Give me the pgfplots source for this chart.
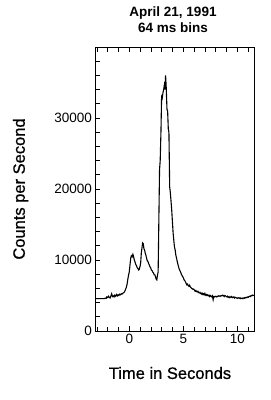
\documentclass[border=0pt]{standalone}
\usepackage{pgfplots}
\pgfplotsset{compat=1.18}
\usepackage{fontspec}
\setmainfont{Liberation Sans}
\newfontfamily\labelfont[FakeBold=0.8]{Liberation Sans}
\begin{document}
\begin{tikzpicture}
\useasboundingbox (-95.5pt,-69pt) rectangle (175.5pt,331pt);
\begin{axis}[
  at={(0,0)}, anchor=south west,
  scale only axis, width=158.5pt, height=284pt,
  xmin=-3.15, xmax=11.55, ymin=0, ymax=40000,
  xtick={0,5,10}, minor xtick={-3,-2,-1,1,2,3,4,6,7,8,9,11},
  ytick={0,10000,20000,30000}, minor ytick={2000,4000,6000,8000,12000,14000,16000,18000,22000,24000,26000,28000,32000,34000,36000,38000},
  xtick pos=both, ytick pos=left,
  tick align=inside,
  major tick length=5pt, minor tick length=4.5pt,
  tick style={black, line width=0.8pt},
  axis line style={line width=0.9pt},
  scaled y ticks=false,
  /pgf/number format/assume math mode=true,
  /pgf/number format/1000 sep={},
  tick label style={font=\fontsize{13.5}{13.5}\selectfont},
  clip=false,
]
\addplot[black, line width=1.1pt] coordinates {
(-3.15,4550) (-2.30,4550) (-2.25,4650) (-2.15,4600) (-2.10,4800) (-2.02,4700)
(-1.95,4900) (-1.88,4750) (-1.80,4650) (-1.72,4950) (-1.65,5250) (-1.58,4850)
(-1.50,4950) (-1.43,4800) (-1.36,5050) (-1.28,4900) (-1.20,5150) (-1.12,4950)
(-1.05,5100) (-0.98,5000) (-0.90,5200) (-0.82,5100) (-0.75,5250) (-0.68,5200)
(-0.60,5350) (-0.52,5400) (-0.45,5550) (-0.38,5800) (-0.30,6100) (-0.22,6600)
(-0.15,7300) (-0.08,7900) (-0.02,8300) (0.05,9300) (0.12,10300) (0.18,10600)
(0.25,10450) (0.32,10800) (0.38,10500) (0.45,10000) (0.52,9700) (0.58,9400)
(0.65,9200) (0.72,8900) (0.78,8800) (0.85,8600) (0.91,8700) (0.98,9100)
(1.04,9600) (1.10,11000) (1.16,11700) (1.22,12400) (1.28,12300) (1.34,11600)
(1.40,11400) (1.46,11000) (1.52,10700) (1.58,10300) (1.65,9900) (1.71,9800)
(1.78,9500) (1.84,9300) (1.90,9050) (1.97,8900) (2.03,8600) (2.10,8500)
(2.16,8300) (2.23,8200) (2.29,7900) (2.36,7900) (2.42,7600) (2.48,7300)
(2.54,7200) (2.60,7900) (2.66,8300) (2.72,15000) (2.79,22700) (2.85,24000)
(2.92,28000) (2.98,33000) (3.04,32800) (3.10,33500) (3.17,34000) (3.23,34600)
(3.29,34000) (3.35,36000) (3.41,34300) (3.48,31200) (3.54,31000) (3.60,28500)
(3.66,28000) (3.73,20300) (3.79,19500) (3.86,18200) (3.92,17000) (3.98,15500)
(4.05,13800) (4.11,12800) (4.17,11900) (4.24,11400) (4.30,10700) (4.36,10300)
(4.43,9800) (4.49,9400) (4.56,9000) (4.62,8700) (4.68,8500) (4.75,8300)
(4.81,8000) (4.88,7800) (4.94,7650) (5.00,7500) (5.07,7200) (5.13,7100)
(5.20,6900) (5.26,6700) (5.32,6500) (5.39,6600) (5.45,6400) (5.52,6300)
(5.58,6450) (5.64,6200) (5.71,6100) (5.77,6000) (5.84,5950) (5.90,5850)
(5.96,5900) (6.03,5750) (6.09,5600) (6.16,5700) (6.22,5550) (6.28,5500)
(6.35,5600) (6.41,5400) (6.48,5350) (6.54,5450) (6.60,5300) (6.67,5200)
(6.73,5350) (6.80,5150) (6.86,5250) (6.92,5100) (6.99,5300) (7.05,5050)
(7.12,5150) (7.18,5000) (7.24,5100) (7.31,4950) (7.37,5050) (7.44,4850)
(7.50,5000) (7.56,4900) (7.63,4800) (7.69,4950) (7.76,4400) (7.82,4850)
(7.88,4800) (7.95,4900) (8.01,4850) (8.08,4800) (8.14,4900) (8.20,4850)
(8.27,4950) (8.33,4900) (8.40,4950) (8.46,4900) (8.52,5000) (8.59,4950)
(8.65,5050) (8.72,5000) (8.78,4850) (8.84,5000) (8.91,4950) (8.97,4850)
(9.04,4800) (9.10,4900) (9.16,4750) (9.23,4850) (9.29,4700) (9.36,4800)
(9.42,4750) (9.48,4850) (9.55,4700) (9.61,4750) (9.68,4800) (9.74,4650)
(9.80,4750) (9.87,4700) (9.93,4650) (10.00,4600) (10.06,4700) (10.12,4650)
(10.19,4600) (10.25,4700) (10.32,4550) (10.38,4600) (10.44,4650) (10.51,4550)
(10.57,4650) (10.64,4600) (10.70,4700) (10.76,4650) (10.83,4750) (10.89,4700)
(10.96,4800) (11.02,4750) (11.08,4850) (11.15,4900) (11.21,4850) (11.28,5000)
(11.34,4950) (11.40,5050) (11.47,5000) (11.55,5050)
};
\node[font=\bfseries\fontsize{13.5}{13.5}\selectfont] at (axis description cs:0.489,1.118) {April 21, 1991};
\node[font=\bfseries\fontsize{13.5}{13.5}\selectfont] at (axis description cs:0.489,1.067) {64 ms bins};
\node[font=\labelfont\fontsize{16.5}{16.5}\selectfont] at (axis description cs:0.47,-0.148) {Time in Seconds};
\node[font=\labelfont\fontsize{16.5}{16.5}\selectfont, rotate=90] at (axis description cs:-0.473,0.5) {Counts per Second};
\end{axis}
\end{tikzpicture}
\end{document}
